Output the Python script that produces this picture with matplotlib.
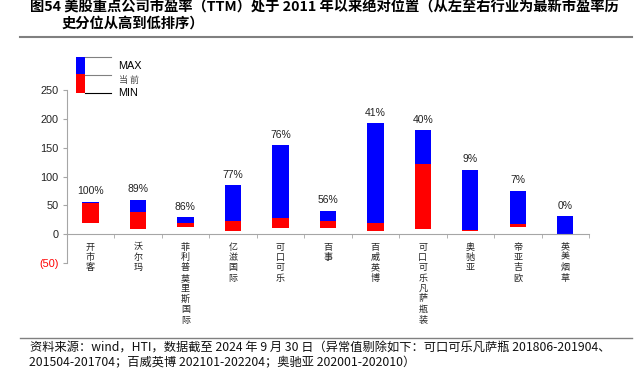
import matplotlib.pyplot as plt
from matplotlib.patches import Rectangle
from matplotlib.lines import Line2D

plt.rcParams['font.family'] = ['Noto Sans CJK SC', 'DejaVu Sans']

companies = ['开市客', '沃尔玛', '菲利普莫里斯国际', '亿滋国际', '可口可乐', '百事',
             '百威英博', '可口可乐凡萨瓶装', '奥驰亚', '帝亚吉欧', '英美烟草']
pe_min = [20, 9, 12, 6, 10, 11, 6, 9, 6, 13, 0]
pe_now = [54, 38, 20, 22.5, 28, 22.5, 19, 121, 7, 17, 0]
pe_max = [56, 60, 29, 85, 154, 41, 192, 180, 112, 75, 31]
pct = ['100%', '89%', '86%', '77%', '76%', '56%', '41%', '40%', '9%', '7%', '0%']

yticks = [-50, 0, 50, 100, 150, 200, 250]
ylabels = ['(50)', '0', '50', '100', '150', '200', '250']

W, H = 638, 376
fig = plt.figure(figsize=(W / 100, H / 100), dpi=100)

def fx(px):
    return px / W

def fy(py):
    return 1 - py / H

ax = fig.add_axes([fx(66.7), fy(263), fx(589) - fx(66.7), fy(90) - fy(263)])

x = list(range(len(companies)))
red_h = [n - m for n, m in zip(pe_now, pe_min)]
blue_h = [m - n for m, n in zip(pe_max, pe_now)]
ax.bar(x, red_h, bottom=pe_min, width=0.345, color='#FF0000', linewidth=0)
ax.bar(x, blue_h, bottom=pe_now, width=0.345, color='#0000FF', linewidth=0)

for xi, top, p in zip(x, pe_max, pct):
    ax.annotate(p, (xi, top), xytext=(0, 4), textcoords='offset points',
                ha='center', va='bottom', fontsize=7.5, family='Liberation Sans',
                color='#222222')

ax.set_xlim(-0.5, len(companies) - 0.5)
ax.set_ylim(-50, 250)
ax.set_yticks(yticks)
ax.set_yticklabels(ylabels, family='Liberation Sans', fontsize=7.8)
for lbl, v in zip(ax.get_yticklabels(), yticks):
    lbl.set_color('#FF0000' if v < 0 else '#222222')

ax.spines['top'].set_visible(False)
ax.spines['right'].set_visible(False)
ax.spines['bottom'].set_position(('data', 0))
for s in ['left', 'bottom']:
    ax.spines[s].set_color('#A6A6A6')
    ax.spines[s].set_linewidth(0.8)

ax.set_xticks(x)
ax.set_xticklabels(['\n'.join(c) for c in companies], fontsize=6.5, linespacing=1.2,
                   va='top', color='#222222')
ax.set_xticks([i + 0.5 for i in range(-1, len(companies))], minor=True)
ax.tick_params(axis='x', which='major', length=0, pad=6)
ax.tick_params(axis='x', which='minor', length=3, color='#A6A6A6', direction='out')
ax.tick_params(axis='y', length=3, color='#A6A6A6', pad=3)

# legend drawn by hand: blue over red with pointer lines
fig.patches.append(Rectangle((fx(76), fy(74.5)), fx(85) - fx(76), fy(56.7) - fy(74.5),
                             transform=fig.transFigure, color='#0000FF', lw=0))
fig.patches.append(Rectangle((fx(76), fy(92.7)), fx(85) - fx(76), fy(74.5) - fy(92.7),
                             transform=fig.transFigure, color='#FF0000', lw=0))
for py, c in [(56.7, '#808080'), (74.5, '#808080'), (92.7, '#000000')]:
    fig.add_artist(Line2D([fx(85), fx(110.7)], [fy(py), fy(py)], color=c, lw=0.8))
fig.text(fx(118), fy(65.7), 'MAX', fontsize=7.8, family='Liberation Sans', va='center')
fig.text(fx(119), fy(80.5), '当 前', fontsize=6.5, va='center', color='#444444')
fig.text(fx(118), fy(93.5), 'MIN', fontsize=7.8, family='Liberation Sans', va='center')

# title and rules
fig.text(fx(30), fy(7), '图54 美股重点公司市盈率（TTM）处于 2011 年以来绝对位置（从左至右行业为最新市盈率历',
         fontsize=10.3, fontweight='bold', va='center')
fig.text(fx(62), fy(24), '史分位从高到低排序）', fontsize=10.3, fontweight='bold', va='center')
fig.add_artist(Line2D([fx(20), fx(632)], [fy(36.7), fy(36.7)], color='#808080', lw=1.5))
fig.add_artist(Line2D([fx(20), fx(632)], [fy(338.3), fy(338.3)], color='#808080', lw=1.0))

fig.text(fx(30), fy(348.5),
         '资料来源：wind，HTI，数据截至 2024 年 9 月 30 日（异常值剔除如下：可口可乐凡萨瓶 201806-201904、',
         fontsize=8.8, va='center', color='#111111')
fig.text(fx(29), fy(363), '201504-201704；百威英博 202101-202204；奥驰亚 202001-202010）',
         fontsize=8.8, va='center', color='#111111')

fig.savefig('out.png', dpi=100)
